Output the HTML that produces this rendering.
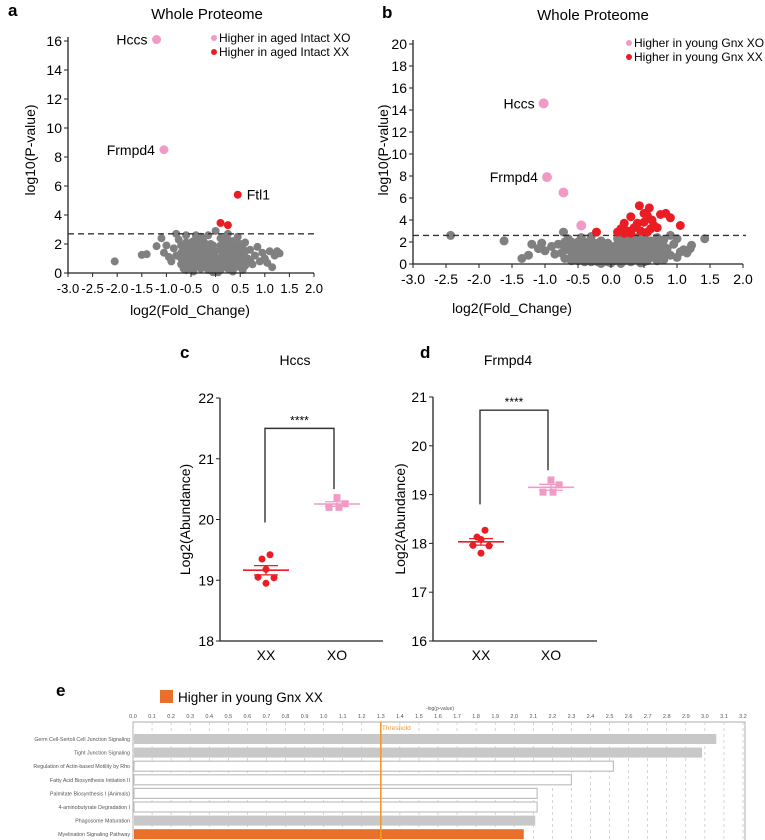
<!DOCTYPE html>
<html><head><meta charset="utf-8">
<style>
body{margin:0;background:#fff;}
svg{display:block;font-family:"Liberation Sans",Arial,sans-serif;}
</style></head>
<body>
<svg id="fig" width="765" height="840" viewBox="0 0 765 840">
<g id="pa"></g>
<g id="pb"></g>
<g id="pc"></g>
<g id="pd"></g>
<g id="pe"></g>
</svg>
<script>
// ---- Panel a data ----
const aGray = [[-2.05,0.8],[-1.5,1.25],[-1.4,1.3],[-1.2,1.85],[-1.1,2.4],[-1.05,1.4],[-0.95,1.1],[-0.9,0.8],[-0.85,1.7],[-0.8,1.2],[-0.75,2.3],[-0.7,0.6],[-0.65,1.5],[-0.6,2.6],[-0.55,1.0],[-0.5,2.1],[-0.5,0.4],[-0.45,1.6],[-0.4,2.6],[-0.4,0.9],[-0.35,1.9],[-0.3,0.3],[-0.3,1.3],[-0.25,2.2],[-0.2,0.7],[-0.2,1.7],[-0.15,2.6],[-0.15,0.2],[-0.1,1.2],[-0.05,0.5],[-0.05,1.9],[0.0,0.1],[0.0,2.9],[0.05,1.0],[0.05,0.3],[0.1,1.6],[0.1,2.4],[0.15,0.6],[0.2,1.2],[0.2,2.0],[0.25,0.3],[0.25,2.7],[0.3,1.6],[0.3,0.8],[0.35,2.2],[0.4,1.1],[0.4,0.4],[0.45,1.8],[0.5,0.7],[0.55,1.3],[0.6,2.1],[0.6,0.5],[0.65,1.0],[0.7,1.6],[0.75,0.6],[0.8,1.2],[0.85,1.8],[0.9,0.8],[0.95,1.4],[1.0,1.0],[1.05,0.7],[1.1,1.5],[1.15,0.4],[1.2,1.2],[1.25,1.5],[1.3,1.35],[-0.6,0.2],[-0.45,0.1],[-0.25,1.0],[-0.55,1.8],[0.15,1.8],[0.35,0.1],[0.45,2.5],[-0.3,2.5],[-0.7,1.9],[-0.6,1.3],[-0.5,1.5],[-0.4,1.3],[-0.35,0.6],[-0.25,1.5],[-0.15,1.0],[-0.1,0.6],[-0.05,1.4],[0.0,0.7],[0.1,1.0],[0.15,1.3],[0.25,1.0],[0.3,2.0],[0.35,1.3],[0.4,0.8],[0.5,1.0],[0.55,1.7],[0.2,0.5],[-0.1,0.2],[0.1,0.2],[-0.2,0.4],[-0.45,2.2],[-0.35,2.3],[0.25,2.3],[0.15,2.1],[-0.65,0.9],[0.7,0.9],[-1.0,1.9],[-0.8,2.7],
[-0.7,1.0],[-0.7,1.4],[-0.6,0.6],[-0.6,1.0],[-0.6,1.7],[-0.6,2.1],[-0.5,0.8],[-0.5,1.2],[-0.5,1.8],[-0.4,0.5],[-0.4,1.6],[-0.4,2.0],[-0.3,0.8],[-0.3,1.0],[-0.3,1.7],[-0.3,2.1],[-0.2,1.1],[-0.2,1.3],[-0.2,2.0],[-0.1,0.4],[-0.1,0.9],[-0.1,1.6],[-0.1,2.0],[0.0,0.3],[0.0,1.1],[0.0,1.5],[0.05,0.6],[0.1,0.5],[0.1,1.9],[0.2,0.8],[0.2,1.5],[0.2,2.4],[0.3,0.5],[0.3,1.2],[0.3,1.9],[0.4,0.6],[0.4,1.5],[0.4,2.0],[0.5,0.4],[0.5,1.3],[0.5,2.0],[0.6,0.8],[0.6,1.5],[-0.65,0.3],[0.55,0.2],[-0.05,0.05],[0.05,0.05],[0.15,0.9],[-0.25,0.6],[0.45,1.0],[-0.55,0.5]];
const aPink = [[-1.2,16.1],[-1.05,8.5]];
const aPinkLabels = ["Hccs","Frmpd4"];
const aRed = [[0.45,5.4],[0.1,3.45],[0.25,3.3]];
const aRedLabels = ["Ftl1","",""];
const aThreshold = 2.7;
const aXTicks = [-3.0,-2.5,-2.0,-1.5,-1.0,-0.5,0,0.5,1.0,1.5,2.0];
const aYTicks = [0,2,4,6,8,10,12,14,16];

// ---- Panel b data ----
const bGray = [[-2.43,2.6],[-1.62,2.1],[-1.35,0.5],[-1.25,0.8],[-1.2,1.8],[-1.1,1.4],[-1.05,1.9],[-1.0,1.2],[-0.9,1.6],[-0.85,0.9],[-0.8,1.8],[-0.72,2.9],[-0.7,0.5],[-0.65,1.3],[-0.6,2.0],[-0.55,0.8],[-0.5,1.6],[-0.5,0.3],[-0.45,2.4],[-0.4,1.1],[-0.35,0.5],[-0.35,1.8],[-0.3,2.5],[-0.25,0.9],[-0.2,1.5],[-0.2,0.2],[-0.15,2.1],[-0.1,0.6],[-0.1,1.2],[-0.05,0.2],[0.0,0.9],[0.05,0.3],[0.05,1.6],[0.1,2.3],[0.1,0.7],[0.15,1.2],[0.2,0.3],[0.2,1.9],[0.25,0.8],[0.3,1.5],[0.3,2.4],[0.35,0.4],[0.4,1.1],[0.4,2.0],[0.45,0.7],[0.5,1.6],[0.5,2.5],[0.55,0.3],[0.6,1.2],[0.6,2.1],[0.65,0.6],[0.7,1.7],[0.75,1.0],[0.8,0.4],[0.8,2.2],[0.85,1.4],[0.9,2.6],[0.9,0.8],[0.95,1.8],[1.0,2.3],[1.0,0.6],[1.05,1.1],[1.1,1.3],[1.15,1.0],[1.2,1.4],[1.22,1.7],[1.42,2.3],[-0.6,0.6],[-0.4,0.2],[-0.3,1.3],[-0.15,0.4],[0.15,0.2],[0.35,1.0],[0.45,1.3],[0.55,1.9],[0.65,1.5],[0.7,0.3],[-0.55,1.4],[-0.25,1.9],[0.25,1.4],[-0.75,1.0],[-0.45,0.9],[0.0,0.4],[0.1,1.3],[0.7,2.4],[-0.65,2.3],
[-0.7,1.4],[-0.7,2.0],[-0.6,0.3],[-0.6,1.1],[-0.6,1.6],[-0.5,0.6],[-0.5,1.1],[-0.5,2.0],[-0.4,0.5],[-0.4,1.5],[-0.4,2.0],[-0.3,0.2],[-0.3,0.8],[-0.3,1.8],[-0.2,0.7],[-0.2,1.1],[-0.2,1.9],[-0.1,0.3],[-0.1,1.6],[-0.05,0.8],[0.0,0.1],[0.0,1.3],[0.1,0.4],[0.1,1.0],[0.1,1.8],[0.2,0.6],[0.2,1.1],[0.2,2.3],[0.3,0.2],[0.3,0.8],[0.3,1.9],[0.4,0.5],[0.4,1.5],[0.4,2.4],[0.5,0.2],[0.5,1.0],[0.5,2.0],[0.6,0.6],[0.6,1.6],[0.7,1.2],[0.7,2.0],[0.8,0.8],[0.8,1.6],[-0.15,0.05],[0.15,0.05],[0.45,0.1],[-0.45,1.3],[0.25,1.7],[-0.05,1.9],[0.55,0.7]];
const bPink = [[-1.02,14.6],[-0.97,7.9],[-0.72,6.5],[-0.45,3.5]];
const bPinkLabels = ["Hccs","Frmpd4","",""];
const bRed = [[-0.22,2.9],[0.43,5.3],[0.58,5.1],[0.3,4.3],[0.2,3.7],[0.55,4.4],[0.75,4.5],[0.83,4.6],[0.9,4.2],[1.05,3.5],[0.65,3.5],[0.35,3.3],[0.1,2.9],[0.15,3.2],[0.5,3.8],[0.45,3.0],[0.6,3.2],[0.25,3.0],[0.4,3.7],[0.62,4.0],[0.7,3.3],[0.55,2.9],[0.3,2.8],[0.5,4.6],[0.2,2.8]];
const bThreshold = 2.6;
const bXTicks = [-3.0,-2.5,-2.0,-1.5,-1.0,-0.5,0,0.5,1.0,1.5,2.0];
const bYTicks = [0,2,4,6,8,10,12,14,16,18,20];

// ---- Panel c / d data ----
const groups = ["XX","XO"];
const cXX = [19.42,19.35,19.18,19.05,19.04,18.95];
const cXO = [20.36,20.26,20.2,20.2];
const cYTicks = [18,19,20,21,22];
const dXX = [18.27,18.13,18.08,17.96,17.95,17.8];
const dXO = [19.3,19.2,19.05,19.05];
const dYTicks = [16,17,18,19,20,21];

// ---- Panel e data ----
const pathways = ["Germ Cell-Sertoli Cell Junction Signaling","Tight Junction Signaling","Regulation of Actin-based Motility by Rho","Fatty Acid Biosynthesis Initiation II","Palmitate Biosynthesis I (Animals)","4-aminobutyrate Degradation I","Phagosome Maturation","Myelination Signaling Pathway"];
const pathwayValues = [3.06,2.985,2.52,2.30,2.12,2.12,2.11,2.05];
const pathwayFill = ["gray","gray","white","white","white","white","gray","orange"];
const eTicks = [0.0,0.1,0.2,0.3,0.4,0.5,0.6,0.7,0.8,0.9,1.0,1.1,1.2,1.3,1.4,1.5,1.6,1.7,1.8,1.9,2.0,2.1,2.2,2.3,2.4,2.5,2.6,2.7,2.8,2.9,3.0,3.1,3.2];
const eThreshold = 1.3;

const NS="http://www.w3.org/2000/svg";
function mk(parent,tag,attrs,txt){const e=document.createElementNS(NS,tag);for(const k in attrs)e.setAttribute(k,attrs[k]);if(txt!==undefined)e.textContent=txt;parent.appendChild(e);return e;}
const GRAY="#808080",PINK="#f29ac6",RED="#ea1c24";

function volcano(g,o){
  const sx=v=>o.x0+(v-o.xmin)*(o.x1-o.x0)/(o.xmax-o.xmin);
  const sy=v=>o.y0-(v-o.ymin)*(o.y0-o.y1)/(o.ymax-o.ymin);
  let t=mk(g,'text',{x:o.lx,y:o.ly,'font-size':17,'font-weight':'bold'},o.letter);
  
  
  t=mk(g,'text',{x:o.tx,y:o.ty,'font-size':15,'text-anchor':'middle'},'Whole Proteome');
  
  
  o.gray.forEach(p=>{const c=mk(g,'circle',{cx:sx(p[0]),cy:sy(p[1]),r:o.r,fill:GRAY});
    
    });
  const ax=mk(g,'path',{d:`M${o.x0},${o.y1-4}V${o.y0}H${sx(o.xmax)}`,stroke:'#222',fill:'none','stroke-width':1.3});
  
  
  o.yticks.forEach(v=>{mk(g,'line',{x1:o.x0-4,x2:o.x0,y1:sy(v),y2:sy(v),stroke:'#222'});
    const l=mk(g,'text',{x:o.x0-6,y:sy(v)+5,'font-size':14,'text-anchor':'end'},String(v));
    
    });
  o.xticks.forEach(v=>{mk(g,'line',{x1:sx(v),x2:sx(v),y1:o.y0,y2:o.y0+4,stroke:'#222'});
    const l=mk(g,'text',{x:sx(v),y:o.y0+20,'font-size':o.xfs,'text-anchor':'middle'},v===0?(o.zeroLabel):v.toFixed(1));
    
    });
  const dl=mk(g,'line',{x1:o.x0,x2:sx(o.xmax)+3,y1:sy(o.thr),y2:sy(o.thr),stroke:'#333','stroke-dasharray':'6,4','stroke-width':1.4});
  
  
  o.pink.forEach((p,i)=>{const c=mk(g,'circle',{cx:sx(p[0]),cy:sy(p[1]),r:o.r+0.5,fill:PINK});
    
    
    if(o.pinkLabels[i]){const l=mk(g,'text',{x:sx(p[0])-9,y:sy(p[1])+5,'font-size':14,'text-anchor':'end'},o.pinkLabels[i]);
      
      }});
  o.red.forEach((p,i)=>{const c=mk(g,'circle',{cx:sx(p[0]),cy:sy(p[1]),r:o.r,fill:RED});
    
    
    if(o.redLabels&&o.redLabels[i]){const l=mk(g,'text',{x:sx(p[0])+9,y:sy(p[1])+5,'font-size':14},o.redLabels[i]);
      
      }});
  [[PINK,o.leg[0]],[RED,o.leg[1]]].forEach((e,i)=>{
    mk(g,'circle',{cx:o.legx,cy:o.legy+i*14-4,r:3,fill:e[0]});
    const l=mk(g,'text',{x:o.legx+5,y:o.legy+i*14,'font-size':o.legfs},e[1]);
    
    });
  let yl=mk(g,'text',{x:0,y:0,'font-size':14,'text-anchor':'middle',transform:`translate(${o.ylx},${o.yly}) rotate(-90)`},'log10(P-value)');
  
  
  let xl=mk(g,'text',{x:o.xlx,y:o.xly,'font-size':14,'text-anchor':'middle'},'log2(Fold_Change)');
  
  
}

volcano(document.getElementById('pa'),{x0:68,x1:314,xmin:-3,xmax:2,y0:273,y1:41,ymin:0,ymax:16,r:4,
 gray:aGray,pink:aPink,pinkLabels:aPinkLabels,red:aRed,redLabels:aRedLabels,thr:aThreshold,xticks:aXTicks,yticks:aYTicks,
 letter:'a',lx:8,ly:16,tx:207,ty:19,xfs:13,zeroLabel:'0',legx:214,legy:42,legfs:12,leg:['Higher in aged Intact XO','Higher in aged Intact XX'],
 ylx:35,yly:150,xlx:190,xly:315});
volcano(document.getElementById('pb'),{x0:413,x1:743,xmin:-3,xmax:2,y0:264,y1:44,ymin:0,ymax:20,r:4.5,
 gray:bGray,pink:bPink,pinkLabels:bPinkLabels,red:bRed,redLabels:null,thr:bThreshold,xticks:bXTicks,yticks:bYTicks,
 letter:'b',lx:382,ly:18,tx:593,ty:20,xfs:14,zeroLabel:'0.0',legx:629,legy:47,legfs:12,leg:['Higher in young Gnx XO','Higher in young Gnx XX'],
 ylx:388,yly:150,xlx:512,xly:313});

function dotplot(g,o){
  const sy=v=>o.y0-(v-o.ymin)*(o.y0-o.y1)/(o.ymax-o.ymin);
  const gx=[o.gx0,o.gx1];
  let t=mk(g,'text',{x:o.lx,y:o.ly,'font-size':17,'font-weight':'bold'},o.letter);
  
  
  t=mk(g,'text',{x:o.tx,y:365,'font-size':14,'text-anchor':'middle'},o.title);
  
  
  const ax=mk(g,'path',{d:`M${o.x0},${o.y1}V${o.y0}H${o.xend}`,stroke:'#222',fill:'none','stroke-width':1.3});
  
  
  o.yticks.forEach(v=>{mk(g,'line',{x1:o.x0-4,x2:o.x0,y1:sy(v),y2:sy(v),stroke:'#222'});
    const l=mk(g,'text',{x:o.x0-6,y:sy(v)+5,'font-size':14,'text-anchor':'end'},String(v));
    
    });
  groups.forEach((n,i)=>{const l=mk(g,'text',{x:gx[i],y:o.y0+19,'font-size':14,'text-anchor':'middle'},n);
    
    });
  const yl=mk(g,'text',{x:0,y:0,'font-size':14,'text-anchor':'middle',transform:`translate(${o.ylx},${(o.y0+o.y1)/2}) rotate(-90)`},'Log2(Abundance)');
  
  
  const sets=[[o.xx,RED,'circle'],[o.xo,PINK,'square']];
  sets.forEach((s,gi)=>{
    const vals=s[0],mean=vals.reduce((a,b)=>a+b,0)/vals.length;
    const sd=Math.sqrt(vals.reduce((a,b)=>a+(b-mean)**2,0)/(vals.length-1)),sem=sd/Math.sqrt(vals.length);
    vals.forEach((v,i)=>{
      if(s[2]==='circle'){const dx=[4,-4,0,-8,8,0][i];
        const c=mk(g,'circle',{cx:gx[gi]+dx,cy:sy(v),r:3.5,fill:s[1]});
        
        }
      else{const dx=[0,8,-8,2][i];
        const c=mk(g,'rect',{x:gx[gi]+dx-3.5,y:sy(v)-3.5,width:7,height:7,fill:s[1]});
        
        }
    });
    const m=mk(g,'line',{x1:gx[gi]-23,x2:gx[gi]+23,y1:sy(mean),y2:sy(mean),stroke:s[1],'stroke-width':1.6});
    
    
    mk(g,'path',{d:`M${gx[gi]-12},${sy(mean+sem)}H${gx[gi]+12}M${gx[gi]-12},${sy(mean-sem)}H${gx[gi]+12}M${gx[gi]},${sy(mean+sem)}V${sy(mean-sem)}`,stroke:s[1],'stroke-width':1.3,fill:'none'});
  });
  const br=mk(g,'path',{d:`M${gx[0]-1},${sy(o.legL)}V${sy(o.top)}H${gx[1]-3}V${sy(o.legR)}`,stroke:'#333','stroke-width':1.4,fill:'none'});
  
  
  const st=mk(g,'text',{x:(gx[0]+gx[1])/2-2,y:sy(o.top)-4,'font-size':12,'text-anchor':'middle'},'****');
  
  
}
dotplot(document.getElementById('pc'),{x0:220,y0:641,y1:398,ymin:18,ymax:22,xend:383,gx0:266,gx1:337,xx:cXX,xo:cXO,yticks:cYTicks,
 letter:'c',lx:180,ly:358,tx:295,title:'Hccs',ylx:190,top:21.5,legL:19.95,legR:20.5});
dotplot(document.getElementById('pd'),{x0:433,y0:641,y1:397,ymin:16,ymax:21,xend:597,gx0:481,gx1:551,xx:dXX,xo:dXO,yticks:dYTicks,
 letter:'d',lx:420,ly:358,tx:508,title:'Frmpd4',ylx:405,top:20.73,legL:18.8,legR:19.5});

(function(){
  const g=document.getElementById('pe');
  const x0=133,x1=743,vmax=3.2;
  const sx=v=>x0+v*(x1-x0)/vmax;
  const top=722,rowY=i=>739+i*13.6;
  let t=mk(g,'text',{x:56,y:696,'font-size':17,'font-weight':'bold'},'e');
  
  
  const lg=mk(g,'rect',{x:160,y:690,width:13,height:13,fill:'#e8702a'});
  
  
  t=mk(g,'text',{x:178,y:702,'font-size':13.5},'Higher in young Gnx XX');
  
  
  t=mk(g,'text',{x:440,y:710,'font-size':5,'text-anchor':'middle',fill:'#555'},'-log(p-value)');
  
  
  const fr=mk(g,'rect',{x:x0,y:top,width:x1-x0+2,height:130,fill:'none',stroke:'#999','stroke-width':0.8});
  
  
  eTicks.forEach(v=>{
    mk(g,'line',{x1:sx(v),x2:sx(v),y1:top,y2:840,stroke:'#bbb','stroke-width':0.6,'stroke-dasharray':'3,3'});
    const l=mk(g,'text',{x:sx(v),y:718,'font-size':5.5,'text-anchor':'middle',fill:'#555'},v.toFixed(1));
    
    
  });
  pathways.forEach((p,i)=>{
    const f=pathwayFill[i];
    const b=mk(g,'rect',{x:x0+1,y:rowY(i)-5,width:sx(pathwayValues[i])-x0-1,height:10,
      fill:f==='gray'?'#c8c8c8':f==='orange'?'#e8702a':'#fff',stroke:f==='white'?'#c0c0c0':'none','stroke-width':1.2});
    
    
    const l=mk(g,'text',{x:x0-3,y:rowY(i)+2,'font-size':5.3,'text-anchor':'end',fill:'#555'},p);
    
    
  });
  const th=mk(g,'line',{x1:sx(eThreshold),x2:sx(eThreshold),y1:top,y2:840,stroke:'#f39a2b','stroke-width':1.6});
  
  
  t=mk(g,'text',{x:sx(eThreshold)+1,y:730,'font-size':6.5,fill:'#f39a2b'},'Threshold');
  
  
})();
</script>
</body></html>
